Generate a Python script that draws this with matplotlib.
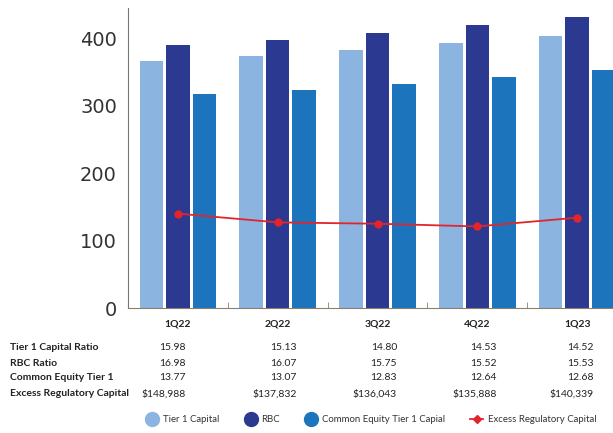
import matplotlib.pyplot as plt
import numpy as np
from matplotlib.lines import Line2D

plt.rcParams["font.family"] = ["Lato", "DejaVu Sans"]

# --- DATA ---
quarters = ['1Q22', '2Q22', '3Q22', '4Q22', '1Q23']
tier1_capital = [367, 374, 383, 393, 404]
rbc = [390, 397, 408, 420, 432]
cet1_capital = [317, 323, 332, 342, 353]
excess_capital = [140, 127, 125, 121, 134]

row_labels = ['Tier 1 Capital Ratio', 'RBC Ratio', 'Common Equity Tier 1',
              'Excess Regulatory Capital']
tier1_ratio = ['15.98', '15.13', '14.80', '14.53', '14.52']
rbc_ratio = ['16.98', '16.07', '15.75', '15.52', '15.53']
cet1_ratio = ['13.77', '13.07', '12.83', '12.64', '12.68']
excess_text = ['$148,988', '$137,832', '$136,043', '$135,888', '$140,339']

c_light = '#8cb4e0'
c_dark = '#2b3990'
c_mid = '#1c75bc'
c_red = '#e3242b'

fig = plt.figure(figsize=(6.13, 4.33), dpi=100)
ax = fig.add_axes([128 / 613, 1 - 308 / 433, 499 / 613, 300 / 433])

x = np.arange(len(quarters))
w = 0.236
step = 0.265
ax.bar(x - step, tier1_capital, w, color=c_light)
ax.bar(x, rbc, w, color=c_dark)
ax.bar(x + step, cet1_capital, w, color=c_mid)
ax.plot(x, excess_capital, color=c_red, lw=1.3, marker='o', ms=5, zorder=5)

ax.set_xlim(-0.5, 4.5)
ax.set_ylim(0, 445)
ax.set_yticks([0, 100, 200, 300, 400])
ax.tick_params(axis='y', length=0, pad=8, labelsize=14, labelcolor='#333333')
for t in ax.get_yticklabels():
    t.set_family(['DejaVu Sans'])
ax.set_xticks(x)
ax.set_xticklabels(quarters, fontsize=7.5, fontweight='bold', color='#222222')
ax.tick_params(axis='x', length=0, pad=8)
ax.set_xticks(x[:-1] + 0.5, minor=True)
ax.tick_params(axis='x', which='minor', direction='in', length=4, color='#8a8070')

for s in ['top', 'right']:
    ax.spines[s].set_visible(False)
ax.spines['left'].set_color('#777777')
ax.spines['bottom'].set_color('#8a8070')

# Table below the chart
row_y = [348, 363, 378, 394]
col_x = [186, 297, 397, 497, 594]
rows = [tier1_ratio, rbc_ratio, cet1_ratio, excess_text]
for label, vals, yy in zip(row_labels, rows, row_y):
    fy = 1 - yy / 433
    fig.text(10 / 613, fy, label, fontsize=7.5, fontweight='bold',
             ha='left', va='center', color='#222222')
    for v, xx in zip(vals, col_x):
        fig.text(xx / 613, fy, v, fontsize=7.5, ha='right', va='center',
                 color='#222222')

handles = [
    Line2D([], [], ls='none', marker='o', ms=10, color=c_light),
    Line2D([], [], ls='none', marker='o', ms=10, color=c_dark),
    Line2D([], [], ls='none', marker='o', ms=10, color=c_mid),
    Line2D([], [], color=c_red, lw=1.3, marker='D', ms=4),
]
labels = ['Tier 1 Capital', 'RBC', 'Common Equity Tier 1 Capial',
          'Excess Regulatory Capital']
fig.legend(handles, labels, loc='center', bbox_to_anchor=(371 / 613, 1 - 420 / 433),
           ncol=4, frameon=False, fontsize=6.9, handlelength=1.3, handletextpad=0.5,
           columnspacing=2.6, labelcolor='#333333')

fig.savefig('out.png', dpi=100)
